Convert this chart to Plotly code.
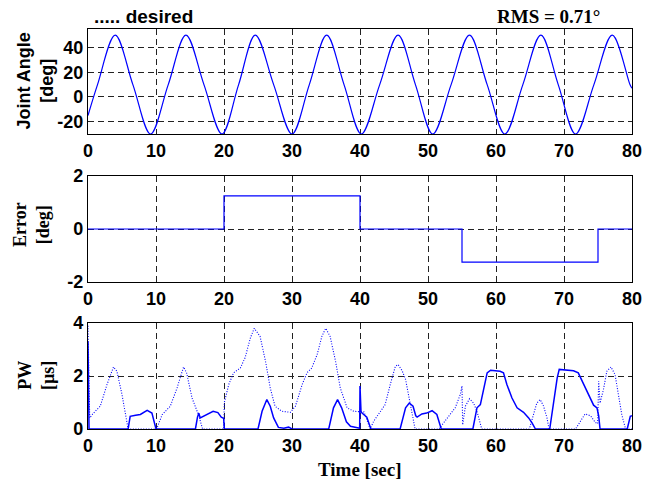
import plotly.graph_objects as go
from plotly.subplots import make_subplots

# ---------------- data ----------------
x_ticks = [0, 10, 20, 30, 40, 50, 60, 70, 80]

# Joint angle (deg): points read at troughs, mid-crossings and peaks
angle_time = [0, 1.4, 4.0, 6.6, 9.2, 11.8, 14.4, 17.05, 19.7, 22.15, 24.6, 27.3, 30.0,
              32.55, 35.1, 37.65, 40.2, 42.9, 45.6, 48.15, 50.7, 53.4, 56.1, 58.7,
              61.3, 63.95, 66.6, 69.15, 71.7, 74.4, 77.1, 79.7, 80]
angle_vals = [-15, 10, 50, 10, -30, 10, 50, 10, -30, 10, 50, 10, -30,
              10, 50, 10, -30, 10, 50, 10, -30, 10, 50, 10,
              -30, 10, 50, 10, -30, 10, 50, 10, 7]
angle_ticks = [-20, 0, 20, 40]
angle_ticklabels = ["-20", "0", "20", "40"]

# Error (deg)
err_time = [0, 20, 20, 40, 40, 55, 55, 75, 75, 80]
err_vals = [0, 0, 1.25, 1.25, 0, 0, -1.25, -1.25, 0, 0]
err_ticks = [-2, 0, 2]
err_ticklabels = ["-2", "0", "2"]

# Pulse width (us), solid channel
pw_solid_time = [0, 0.15, 5.9, 6.2, 7.0, 7.7, 8.7, 9.4, 10.0, 15.8, 16.1, 16.3, 16.5, 17.3,
                 18.4, 19.1, 19.6, 19.95, 20.05, 25.0, 25.6, 26.3, 26.8, 27.3, 28.0, 28.8,
                 29.5, 30.0, 35.4, 36.1, 36.7, 37.3, 38.0, 38.6, 39.5, 39.95, 40.0, 40.15,
                 40.3, 41.0, 41.6, 45.9, 46.7, 47.25, 47.8, 48.2, 48.4, 49.1, 49.8, 50.6,
                 51.3, 51.95, 56.6, 57.2, 57.7, 58.2, 58.7, 59.2, 60.6, 61.1, 61.6, 62.35,
                 63.1, 64.05, 64.8, 65.3, 65.8, 67.9, 68.5, 69.0, 69.3, 70.2, 71.4, 72.1,
                 72.9, 73.6, 74.35, 74.85, 75.1, 75.3, 79.3, 79.75, 80]
pw_solid_vals = [3.3, 0, 0, 0.48, 0.52, 0.55, 0.7, 0.6, 0, 0, 0.45, 0.6, 0.42, 0.52,
                 0.67, 0.62, 0.45, 0.4, 0, 0, 0.67, 1.11, 0.86, 0.42, 0.06, 0.03,
                 0.07, 0, 0, 0.8, 1.11, 0.8, 0.27, 0.1, 0.05, 0.03, 1.62, 0.65,
                 0.6, 0.45, 0, 0, 0.8, 0.98, 0.86, 0.5, 0.45, 0.57, 0.6, 0.69,
                 0.55, 0, 0, 0.8, 0.92, 1.55, 2.12, 2.22, 2.18, 2.12, 1.68, 1.17,
                 0.8, 0.63, 0.42, 0.23, 0, 0, 1.17, 1.93, 2.25, 2.22, 2.2, 2.12,
                 1.68, 1.25, 0.9, 0.8, 0.5, 0, 0, 0.48, 0.5]

# Pulse width (us), dotted channel
pw_dot_time = [0, 0.25, 0.8, 1.8, 2.8, 3.75, 4.25, 5.0, 5.9, 10.1, 10.9, 12.1, 13.1, 14.05,
               14.5, 15.3, 16.3, 16.85, 19.95, 20.05, 20.7, 21.4, 22.4, 23.1, 23.9, 24.45,
               25.3, 26.1, 26.8, 27.5, 28.5, 29.75, 30.5, 31.5, 32.2, 32.9, 33.7, 34.4,
               34.95, 35.6, 36.4, 37.1, 38.1, 39.06, 40.6, 41.5, 42.0, 42.7, 43.7, 44.45,
               45.2, 45.6, 46.2, 46.7, 47.1, 47.6, 48.1, 51.6, 53.0, 54.0, 54.75, 55.0,
               55.1, 55.5, 56.1, 56.7, 57.2, 57.9, 64.9, 65.5, 66.0, 66.5, 67.0, 67.5,
               67.8, 71.7, 72.4, 73.1, 73.9, 74.6, 74.95, 75.1, 75.3, 75.8, 76.3, 76.9,
               77.5, 78.0, 78.5, 79.0, 79.2, 80]
pw_dot_vals = [3.9, 0.42, 0.6, 0.86, 1.68, 2.34, 2.18, 1.3, 0, 0, 0.54, 0.86, 1.55, 2.34,
               2.12, 1.17, 0.5, 0, 0, 1.0, 1.68, 2.12, 2.3, 2.69, 3.45, 3.8,
               3.5, 2.56, 1.55, 0.86, 0.67, 0.63, 0.86, 1.68, 2.12, 2.3, 2.81, 3.5,
               3.8, 3.5, 2.56, 1.55, 0.8, 0.67, 0.64, 0, 0.29, 0.55, 0.92, 1.68,
               2.37, 2.43, 2.2, 1.87, 1.3, 0.67, 0, 0, 0.48, 0.8, 1.3, 1.62,
               0.16, 0.86, 1.14, 0.98, 0.67, 0, 0, 0.54, 0.98, 1.11, 0.86, 0.42,
               0, 0, 0.29, 0.57, 0.5, 0.25, 0.2, 1.8, 0.98, 1.49, 2.18, 2.34,
               2.06, 1.3, 0.54, 0.06, 0, 0]
pw_ticks = [0, 2, 4]
pw_ticklabels = ["0", "2", "4"]

# ---------------- figure ----------------
BLUE = "#0000ff"
W, H = 656, 481
ML, MR, MT, MB = 88, 24, 29, 52
PH = H - MT - MB  # 400

def py2paper(py):
    return (H - MB - py) / PH

def px2paper(px):
    return (px - ML) / (W - ML - MR)

fig = make_subplots(rows=3, cols=1)
fig.add_trace(go.Scatter(x=angle_time, y=angle_vals, mode="lines",
                         line=dict(color=BLUE, width=1.2, shape="spline", smoothing=1.0),
                         showlegend=False), row=1, col=1)
fig.add_trace(go.Scatter(x=err_time, y=err_vals, mode="lines",
                         line=dict(color=BLUE, width=1.2), showlegend=False), row=2, col=1)
fig.add_trace(go.Scatter(x=pw_dot_time, y=pw_dot_vals, mode="lines",
                         line=dict(color=BLUE, width=1.1, dash="1px,1.6px"),
                         showlegend=False), row=3, col=1)
fig.add_trace(go.Scatter(x=pw_solid_time, y=pw_solid_vals, mode="lines",
                         line=dict(color=BLUE, width=1.5), showlegend=False), row=3, col=1)

tick_font = dict(family="Liberation Sans, Arial", size=18, color="black", weight="bold")
axis_common = dict(showline=True, mirror=True, linecolor="black", linewidth=1.2,
                   showgrid=True, gridcolor="#222222", gridwidth=1, griddash="6px,4px",
                   zeroline=False, ticks="", tickfont=tick_font)

domains = [(py2paper(134), py2paper(29)), (py2paper(282), py2paper(176)),
           (py2paper(429), py2paper(323))]
yinfo = [([-30, 55], angle_ticks, angle_ticklabels),
         ([-2, 2], err_ticks, err_ticklabels),
         ([0, 4], pw_ticks, pw_ticklabels)]
for i in range(3):
    n = "" if i == 0 else str(i + 1)
    fig.update_layout(**{
        "xaxis" + n: dict(axis_common, range=[0, 80], tickvals=x_ticks,
                          ticktext=[str(v) for v in x_ticks], domain=[0, 1]),
        "yaxis" + n: dict(axis_common, range=yinfo[i][0], tickvals=yinfo[i][1],
                          ticktext=yinfo[i][2], domain=list(domains[i])),
    })

ann = []
sans_title = dict(family="Liberation Sans, Arial", size=18, color="black", weight="bold")
serif_title = dict(family="Liberation Serif, Times New Roman", size=18, color="black", weight="bold")
ann.append(dict(text="Joint Angle<br>[deg]", x=px2paper(35), y=py2paper(81.5),
                textangle=-90, font=sans_title))
ann.append(dict(text="Error<br>[deg]", x=px2paper(31), y=py2paper(225),
                textangle=-90, font=serif_title))
ann.append(dict(text="PW<br>[\u00b5s]", x=px2paper(36), y=py2paper(376),
                textangle=-90, font=serif_title))
ann.append(dict(text="Time [sec]", x=px2paper(360), y=py2paper(469),
                font=dict(serif_title, size=19)))
ann.append(dict(text="..... desired", x=px2paper(92), y=py2paper(16), xanchor="left",
                font=dict(sans_title, size=19)))
ann.append(dict(text="RMS = 0.71\u00b0", x=px2paper(548), y=py2paper(16),
                font=dict(serif_title, size=19)))
for a in ann:
    a.setdefault("xanchor", "center")
    a.update(xref="paper", yref="paper", yanchor="middle", showarrow=False)

fig.update_layout(width=W, height=H, margin=dict(l=ML, r=MR, t=MT, b=MB),
                  paper_bgcolor="white", plot_bgcolor="white", annotations=ann)

fig.write_html("out.html")
